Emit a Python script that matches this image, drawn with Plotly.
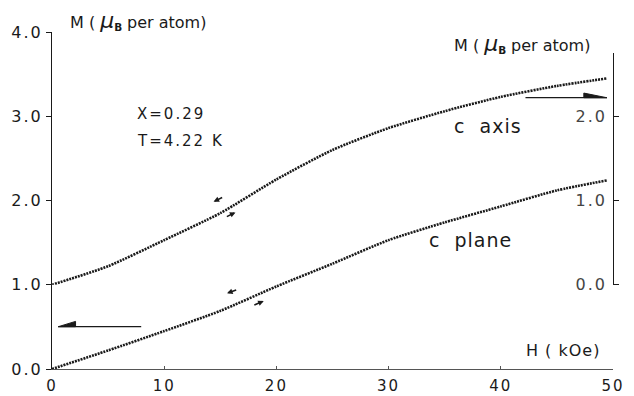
import plotly.graph_objects as go

# Magnetisation isotherms, x = 0.29, T = 4.22 K
field_koe = [0, 5, 10, 15, 20, 25, 30, 35, 40, 45, 49.5]
m_c_plane = [0.0, 0.22, 0.45, 0.69, 0.98, 1.25, 1.53, 1.74, 1.93, 2.12, 2.24]   # left axis
m_c_axis = [0.0, 0.22, 0.53, 0.85, 1.25, 1.60, 1.86, 2.06, 2.23, 2.36, 2.45]    # right axis

x_ticks = [0, 10, 20, 30, 40, 50]
left_ticks = [0, 1, 2, 3, 4]
left_tick_text = ["0.0", "1.0", "2.0", "3.0", "4.0"]
right_ticks = [0, 1, 2]
right_tick_text = ["0.0", "1.0", "2.0"]

INK = "#1a1a1a"
FONT = "DejaVu Sans"


def spaced(t, size=None, sp=2):
    st = f"letter-spacing:{sp}px"
    if size is not None:
        st += f";font-size:{size}px"
    return f"<span style='{st}'>{t}</span>"


fig = go.Figure()

curve = dict(color=INK, width=2.6, dash="2px,1px", shape="spline", smoothing=0.6)
fig.add_trace(go.Scatter(x=field_koe, y=m_c_plane, mode="lines", line=curve,
                         xaxis="x", yaxis="y", showlegend=False))
fig.add_trace(go.Scatter(x=field_koe, y=m_c_axis, mode="lines", line=curve,
                         xaxis="x", yaxis="y2", showlegend=False))

unit_title = ("<span style='font-size:16px'>M ( </span>"
              "<span style='font-size:22px'><i>μ</i></span>"
              "<sub><b>B</b></sub> <span style='font-size:16px'>per atom)</span>")

annotations = [
    dict(text=unit_title, xref="paper", yref="paper", x=0.028, y=1.034,
         xanchor="left", yanchor="middle", showarrow=False),
    dict(text=unit_title, xref="paper", yref="paper", x=0.713, y=0.966,
         xanchor="left", yanchor="middle", showarrow=False),
    dict(text=spaced("H ( kOe)", 16, 1), xref="paper", yref="paper", x=0.841, y=0.056,
         xanchor="left", yanchor="middle", showarrow=False),
    dict(text=spaced("X=0.29"), xref="paper", yref="paper", x=0.148, y=0.757,
         xanchor="left", yanchor="middle", showarrow=False),
    dict(text=spaced("T=4.22 K"), xref="paper", yref="paper", x=0.148, y=0.677,
         xanchor="left", yanchor="middle", showarrow=False),
    dict(text=spaced("c&nbsp; axis", 19, 1), xref="paper", yref="paper", x=0.713, y=0.721,
         xanchor="left", yanchor="middle", showarrow=False),
    dict(text=spaced("c&nbsp; plane", 19, 1), xref="paper", yref="paper", x=0.668, y=0.383,
         xanchor="left", yanchor="middle", showarrow=False),
]

# small arrows marking increasing / decreasing field sweeps
sweep_arrows = [
    ((14.4, 1.985), (15.3, 2.044)),
    ((16.35, 1.859), (15.45, 1.80)),
    ((15.6, 0.898), (16.55, 0.945)),
    ((18.87, 0.807), (17.9, 0.751)),
]
for (tx, ty), (sx, sy) in sweep_arrows:
    annotations.append(dict(x=tx, y=ty, ax=sx, ay=sy, xref="x", yref="y",
                            axref="x", ayref="y", text="", showarrow=True,
                            arrowhead=2, arrowsize=0.7, arrowwidth=1.6,
                            arrowcolor=INK, standoff=0, startstandoff=0))

shapes = [
    # arrow pointing to the left-hand scale
    dict(type="line", xref="x", yref="y", x0=0.56, y0=0.502, x1=7.95, y1=0.502,
         line=dict(color=INK, width=1.3)),
    dict(type="path", xref="x", yref="y", path="M 0.56 0.502 L 2.1 0.565 L 2.1 0.502 Z",
         fillcolor=INK, line=dict(color=INK, width=1)),
    # arrow pointing to the right-hand scale
    dict(type="line", xref="x", yref="y", x0=42.2, y0=3.22, x1=49.45, y1=3.22,
         line=dict(color=INK, width=1.3)),
    dict(type="path", xref="x", yref="y", path="M 49.45 3.22 L 47.4 3.275 L 47.4 3.22 Z",
         fillcolor=INK, line=dict(color=INK, width=1)),
]

fig.update_layout(
    width=634, height=396,
    margin=dict(l=52, r=21, t=32, b=27, autoexpand=False),
    paper_bgcolor="white", plot_bgcolor="rgba(0,0,0,0)",
    font=dict(family=FONT, size=15, color=INK),
    annotations=annotations,
    shapes=shapes,
    xaxis=dict(range=[0, 50], tickvals=x_ticks,
               ticktext=[spaced(str(v)) for v in x_ticks],
               showgrid=False, zeroline=False, showline=True,
               linecolor="#555", linewidth=1, ticks="inside", ticklen=3,
               tickcolor="#555", anchor="y", tickfont=dict(size=15),
               ticklabelstandoff=3, automargin=False),
    yaxis=dict(range=[0, 4], domain=[0, 1], tickvals=left_ticks,
               ticktext=[spaced(t) for t in left_tick_text],
               showgrid=False, zeroline=False, showline=True,
               linecolor=INK, linewidth=1, ticks="outside", ticklen=5,
               tickcolor=INK, anchor="x", tickfont=dict(size=16),
               automargin=False),
    yaxis2=dict(range=[0, 2.75], domain=[0.25, 0.9375], tickvals=right_ticks,
                ticktext=[spaced(t) for t in right_tick_text],
                side="right", anchor="x", showgrid=False, zeroline=False,
                showline=True, linecolor=INK, linewidth=1.3, ticks="outside",
                ticklen=5, tickcolor=INK, ticklabelposition="inside",
                ticklabeloverflow="allow", ticklabelstandoff=6,
                tickfont=dict(size=16), automargin=False),
)

fig.write_html("out.html")
